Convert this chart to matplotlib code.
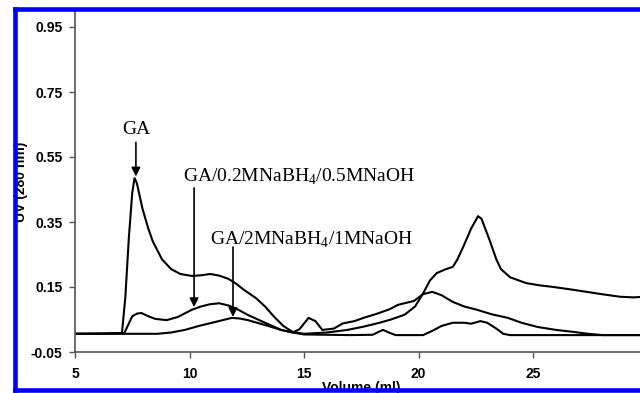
import matplotlib
matplotlib.use('Agg')
import matplotlib.pyplot as plt
from matplotlib.lines import Line2D

plt.rcParams['axes.unicode_minus'] = False
plt.rcParams['mathtext.fontset'] = 'custom'
plt.rcParams['mathtext.rm'] = 'Liberation Serif'

# GPC traces, UV absorbance at 280 nm vs elution volume (ml)
vol_ga = [5.0, 6.0, 7.05, 7.2, 7.35, 7.5, 7.6, 7.7, 7.95, 8.2, 8.4, 8.8, 9.2, 9.6,
          10.1, 10.5, 10.9, 11.3, 11.7, 12.0, 12.4, 12.9, 13.3, 13.7, 14.1, 14.5,
          15.0, 15.5, 16.0, 16.9, 17.6, 18.3, 18.8, 19.4, 19.85, 20.2, 20.5, 20.8,
          21.2, 21.5, 21.7, 21.95, 22.3, 22.6, 22.75, 23.1, 23.4, 23.6, 24.0, 24.7,
          25.3, 25.9, 26.6, 27.35, 28.0, 28.8, 29.4, 30.0]
uv_ga = [0.006, 0.006, 0.008, 0.12, 0.30, 0.44, 0.485, 0.47, 0.39, 0.33, 0.29, 0.235,
         0.205, 0.19, 0.184, 0.186, 0.19, 0.185, 0.175, 0.162, 0.14, 0.116, 0.09,
         0.058, 0.03, 0.012, 0.006, 0.008, 0.01, 0.018, 0.028, 0.04, 0.05, 0.065,
         0.09, 0.13, 0.17, 0.193, 0.205, 0.212, 0.235, 0.273, 0.33, 0.368, 0.36,
         0.295, 0.235, 0.205, 0.18, 0.162, 0.155, 0.15, 0.143, 0.135, 0.128, 0.12,
         0.118, 0.121]

vol_02 = [5.0, 7.15, 7.3, 7.5, 7.7, 7.9, 8.2, 8.5, 9.0, 9.5, 10.1, 10.5, 10.9, 11.3,
          11.7, 12.0, 12.55, 13.3, 14.0, 14.5, 14.8, 15.2, 15.5, 15.8, 16.3, 16.7,
          17.2, 17.6, 18.2, 18.75, 19.1, 19.8, 20.2, 20.6, 21.0, 21.5, 22.0, 22.55,
          23.2, 23.9, 24.5, 25.2, 26.0, 26.75, 27.4, 28.05, 30.0]
uv_02 = [0.006, 0.008, 0.03, 0.06, 0.068, 0.07, 0.06, 0.052, 0.048, 0.058, 0.08,
         0.09, 0.097, 0.1, 0.093, 0.085, 0.064, 0.04, 0.018, 0.01, 0.02, 0.055,
         0.045, 0.018, 0.022, 0.038, 0.045, 0.055, 0.068, 0.082, 0.095, 0.107,
         0.128, 0.135, 0.125, 0.104, 0.09, 0.08, 0.066, 0.055, 0.04, 0.027, 0.018,
         0.012, 0.006, 0.002, 0.002]

vol_2 = [5.0, 8.6, 9.2, 9.8, 10.4, 11.1, 11.85, 12.2, 12.55, 13.3, 14.0, 14.5, 15.0,
         16.0, 17.0, 18.0, 18.2, 18.45, 18.7, 19.0, 20.2, 20.6, 21.0, 21.5, 22.0,
         22.3, 22.7, 23.0, 23.4, 23.7, 24.0, 30.0]
uv_2 = [0.006, 0.006, 0.01, 0.018, 0.03, 0.042, 0.055, 0.053, 0.048, 0.033, 0.018,
        0.01, 0.004, 0.003, 0.002, 0.003, 0.01, 0.018, 0.01, 0.002, 0.002, 0.015,
        0.03, 0.04, 0.04, 0.037, 0.045, 0.04, 0.022, 0.006, 0.002, 0.002]

x_ticks = [5, 10, 15, 20, 25, 30]
y_ticks = [-0.05, 0.15, 0.35, 0.55, 0.75, 0.95]
y_tick_labels = ['-0.05', '0.15', '0.35', '0.55', '0.75', '0.95']

fig = plt.figure(figsize=(6.4, 3.93), dpi=100)
ax = fig.add_axes([75 / 640, 41 / 393, 572.5 / 640, 341.25 / 393])

for v, u in [(vol_ga, uv_ga), (vol_02, uv_02), (vol_2, uv_2)]:
    ax.plot(v, u, color='black', linewidth=1.5)

ax.set_xlim(5, 30)
ax.set_ylim(-0.05, 1.0)
ax.set_xticks(x_ticks)
ax.set_yticks(y_ticks)
ax.set_yticklabels(y_tick_labels)
for lbl in ax.get_xticklabels() + ax.get_yticklabels():
    lbl.set_fontweight('bold')
    lbl.set_fontfamily('Liberation Sans')
ax.tick_params(axis='both', labelsize=10, length=4, width=1, color='#555555',
               direction='out')
ax.tick_params(axis='y', pad=5)
ax.tick_params(axis='x', pad=7)

for s in ['top', 'right']:
    ax.spines[s].set_visible(False)
for s in ['left', 'bottom']:
    ax.spines[s].set_color('#555555')
    ax.spines[s].set_linewidth(1.2)

ax.set_xlabel('Volume (ml)', fontsize=10, fontweight='bold',
              fontfamily='Liberation Sans', labelpad=0)
ax.set_ylabel('UV (280 nm)', fontsize=10, fontweight='bold',
              fontfamily='Liberation Sans', labelpad=2)

arrow = dict(arrowstyle='-|>', color='black', lw=1.2, mutation_scale=13,
             shrinkA=0, shrinkB=0)
ax.annotate('', xy=(7.66, 0.49), xytext=(7.66, 0.595), arrowprops=arrow)
ax.annotate('', xy=(10.2, 0.088), xytext=(10.2, 0.455), arrowprops=arrow)
ax.annotate('', xy=(11.9, 0.058), xytext=(11.9, 0.273), arrowprops=arrow)

tfont = dict(fontsize=14, fontfamily='Liberation Serif', va='center')
ax.text(7.7, 0.636, 'GA', ha='center', **tfont)
ax.text(9.72, 0.49, 'GA/0.2MNaBH$_4$/0.5MNaOH', ha='left', **tfont)
ax.text(10.9, 0.295, 'GA/2MNaBH$_4$/1MNaOH', ha='left', **tfont)

# blue frame around the figure (open on the right side)
W, H = 640.0, 393.0
frame = dict(color='#0000ff', linewidth=3.3, zorder=20, solid_capstyle='projecting')
fig.add_artist(Line2D([14.5 / W, 1.01], [1 - 9 / H, 1 - 9 / H], **frame))
fig.add_artist(Line2D([14.5 / W, 14.5 / W], [1 - 9 / H, 1 - 389.5 / H], **frame))
fig.add_artist(Line2D([14.5 / W, 1.01], [1 - 389.5 / H, 1 - 389.5 / H], **frame))

fig.savefig('out.png', dpi=100)
